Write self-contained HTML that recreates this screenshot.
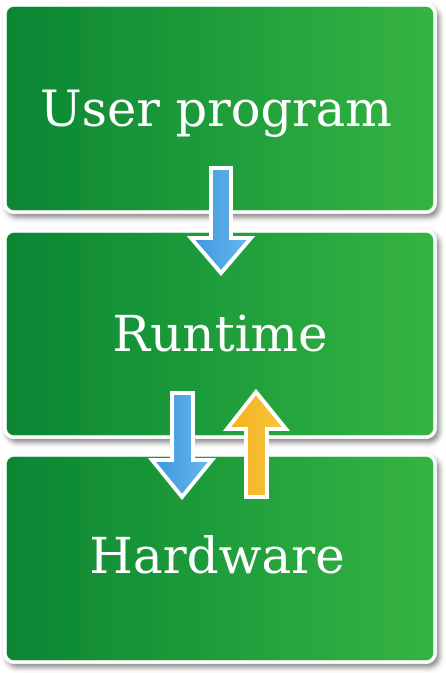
<!DOCTYPE html>
<html><head><style>html,body{margin:0;padding:0;background:#fff;width:446px;height:673px;overflow:hidden}</style></head>
<body>
<svg width="446" height="673" viewBox="0 0 446 673" xmlns="http://www.w3.org/2000/svg">
<defs>
<linearGradient id="g" x1="0" x2="1" y1="0" y2="0"><stop offset="0" stop-color="#0a8633"/><stop offset="1" stop-color="#35b443"/></linearGradient>
<linearGradient id="b" x1="0" x2="1"><stop offset="0" stop-color="#3a97e0"/><stop offset="1" stop-color="#6cb7ea"/></linearGradient>
<linearGradient id="y" x1="0" x2="1"><stop offset="0" stop-color="#f4b21e"/><stop offset="1" stop-color="#f8c440"/></linearGradient>
<filter id="s" x="-5%" y="-5%" width="112%" height="115%"><feDropShadow dx="3" dy="4" stdDeviation="3" flood-color="#000" flood-opacity="0.45"/></filter>
</defs>
<g filter="url(#s)" stroke="#fff" stroke-width="3.5" fill="url(#g)">
<rect x="5" y="5" width="430" height="207" rx="9"/>
<rect x="5" y="231" width="430" height="206" rx="9"/>
<rect x="5" y="455" width="430" height="207" rx="9"/>
</g>
<g fill="#fff" font-family="DejaVu Serif, Liberation Serif, serif" font-size="50" text-anchor="middle">
<text x="216" y="126" textLength="352" lengthAdjust="spacingAndGlyphs">User program</text>
<text x="220" y="351">Runtime</text>
<text x="217" y="573">Hardware</text>
</g>
<g stroke="#fff" stroke-width="4" stroke-linejoin="miter">
<polygon fill="url(#b)" points="211,168 231,168 231,238 251,238 221,273 191,238 211,238"/>
<polygon fill="url(#b)" points="172,393 193,393 193,460 212,460 182,497 152,460 172,460"/>
<polygon fill="url(#y)" points="246,497 267,497 267,429 286,429 256,392 227,429 246,429"/>
</g>
</svg>
</body></html>
